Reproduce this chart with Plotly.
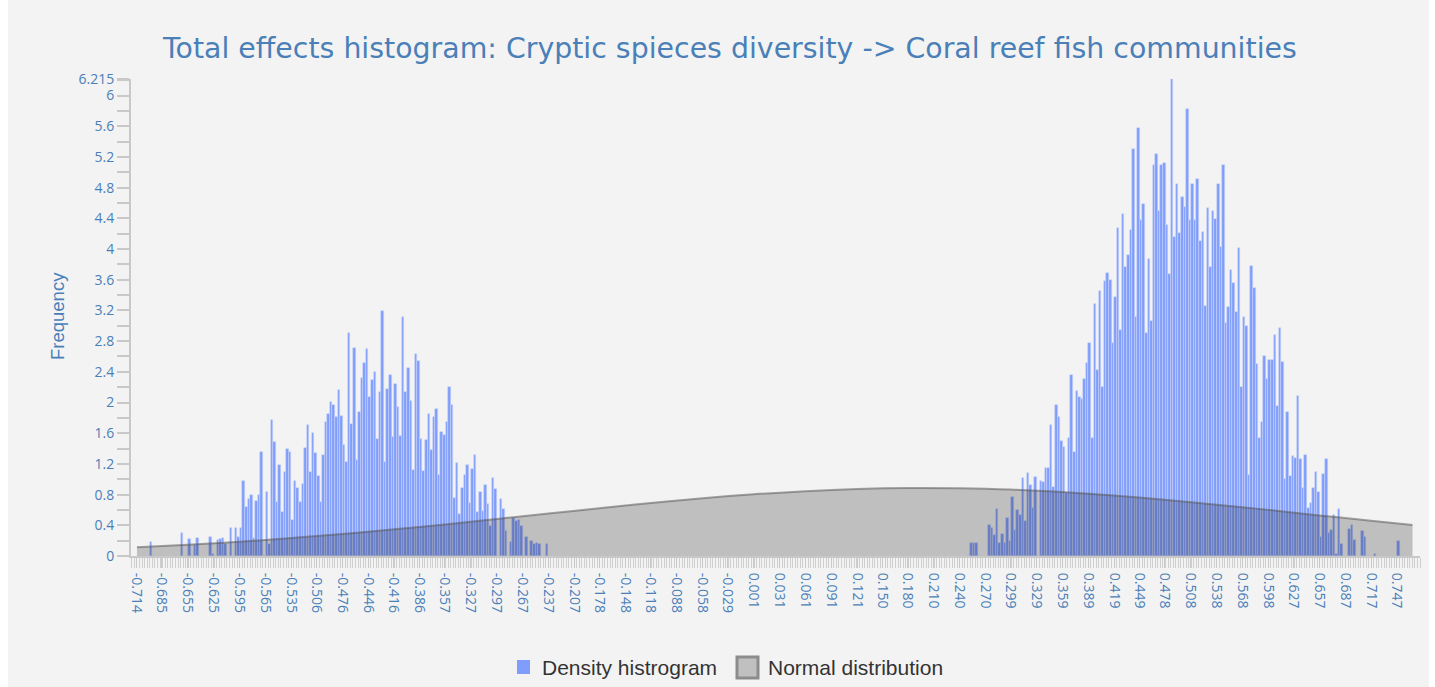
import plotly.graph_objects as go

# Histogram binning: 500 equal bins starting at the sample minimum
X_START = -0.7140
BIN_WIDTH = 0.0029816

# Density of each bin, left mode (first bin index LEFT_FIRST_BIN)
LEFT_FIRST_BIN = 5
LEFT_DENSITY = [
    0.18, 0, 0, 0, 0, 0, 0, 0, 0, 0, 0, 0, 0.30, 0, 0, 0.22, 0, 0.14, 0.24, 0,
    0, 0, 0, 0.25, 0.02, 0, 0.21, 0.22, 0.24, 0.16, 0, 0.37, 0, 0.36, 0.25, 0.36,
    0.98, 0.64, 0.74, 0.80, 0.23, 0.72, 0.79, 1.35, 0, 0.84, 0.16, 1.77, 1.48, 0.71,
    1.19, 0.57, 1.09, 1.40, 1.36, 0.47, 0.98, 0.89, 0.70, 0.94, 1.41, 1.71, 1.09, 1.60,
    1.34, 1.04, 0.70, 1.32, 1.75, 1.85, 2.01, 1.97, 1.81, 2.16, 1.83, 1.45, 1.23, 2.90,
    1.72, 2.71, 1.25, 1.87, 2.32, 2.51, 2.70, 2.07, 2.29, 2.40, 1.52, 2.14, 3.19, 1.23,
    2.17, 2.36, 1.55, 2.24, 1.94, 1.57, 3.12, 2.14, 2.45, 2.02, 1.12, 2.63, 2.54, 1.52,
    1.11, 1.51, 1.85, 1.38, 1.81, 1.92, 1.06, 1.62, 1.58, 1.74, 2.20, 1.97, 0.75, 1.21,
    0.55, 0.88, 1.05, 1.19, 0.69, 1.13, 1.31, 0.57, 0.84, 0.59, 0.93, 0.68, 0.39, 1.02,
    0.87, 0, 0.74, 0.61, 0.32, 0, 0.18, 0.50, 0.46, 0.47, 0.39, 0, 0.25, 0, 0.20,
    0.15, 0.17, 0.16, 0, 0, 0.15,
]

# Density of each bin, right mode (first bin index RIGHT_FIRST_BIN)
RIGHT_FIRST_BIN = 324
RIGHT_DENSITY = [
    0.165, 0.165, 0.17, 0, 0, 0, 0, 0.40, 0.37, 0.27, 0.61, 0.17, 0.29, 0.165, 0.49, 0.20,
    0.77, 0.34, 0.60, 0.53, 1.01, 0.45, 1.08, 0.92, 0.62, 1.03, 0, 0.98, 0.96, 1.15,
    1.15, 1.71, 0.90, 1.97, 1.81, 1.50, 1.42, 0.82, 1.54, 2.36, 1.35, 2.15, 2.07, 2.05,
    2.30, 2.51, 2.77, 1.54, 3.28, 2.42, 3.45, 2.20, 3.58, 3.69, 3.59, 2.78, 3.37, 4.27,
    2.94, 4.45, 3.76, 3.92, 4.25, 5.30, 3.12, 5.58, 4.38, 4.58, 2.91, 3.87, 3.06, 5.09,
    5.24, 4.49, 5.10, 5.12, 4.31, 3.68, 6.215, 4.16, 4.85, 4.21, 4.68, 4.55, 5.83, 4.38,
    4.85, 4.38, 4.91, 4.10, 4.22, 3.26, 4.53, 3.76, 4.49, 4.39, 4.85, 4.03, 5.09, 3.04,
    3.24, 3.72, 3.56, 3.18, 4.01, 2.20, 3.12, 3.00, 1.05, 3.78, 3.49, 2.50, 1.54, 1.74,
    2.61, 2.31, 2.55, 2.56, 2.88, 1.95, 2.97, 2.53, 1.00, 1.88, 1.04, 1.30, 1.28, 2.08,
    1.26, 0.89, 1.32, 0.62, 0.69, 0.88, 1.10, 0.84, 0.25, 1.07, 1.26, 0.30, 0.34, 0.54,
    0.03, 0.61, 0.16, 0, 0, 0.35, 0.41, 0.21, 0, 0, 0.32, 0.25, 0, 0, 0,
    0.02, 0, 0, 0, 0, 0, 0, 0, 0, 0.19,
]

# Fitted normal density, sampled along the x axis
NORMAL_X = [-0.714, -0.655, -0.595, -0.535, -0.476, -0.416, -0.357, -0.297, -0.237,
            -0.178, -0.118, -0.058, 0.001, 0.061, 0.121, 0.180, 0.240, 0.299, 0.359,
            0.419, 0.478, 0.538, 0.598, 0.657, 0.717, 0.765]
NORMAL_Y = [0.113, 0.146, 0.186, 0.234, 0.287, 0.347, 0.412, 0.482, 0.553,
            0.623, 0.691, 0.753, 0.804, 0.845, 0.873, 0.886, 0.883, 0.866, 0.833,
            0.788, 0.733, 0.669, 0.601, 0.529, 0.459, 0.403]

# Axis tick labels
X_TICK_LABELS = ["-0.714", "-0.685", "-0.655", "-0.625", "-0.595", "-0.565", "-0.535",
                 "-0.506", "-0.476", "-0.446", "-0.416", "-0.386", "-0.357", "-0.327",
                 "-0.297", "-0.267", "-0.237", "-0.207", "-0.178", "-0.148", "-0.118",
                 "-0.088", "-0.058", "-0.029", "0.001", "0.031", "0.061", "0.091",
                 "0.121", "0.150", "0.180", "0.210", "0.240", "0.270", "0.299", "0.329",
                 "0.359", "0.389", "0.419", "0.449", "0.478", "0.508", "0.538", "0.568",
                 "0.598", "0.627", "0.657", "0.687", "0.717", "0.747"]
Y_TICK_LABELS = ["0", "0.4", "0.8", "1.2", "1.6", "2", "2.4", "2.8", "3.2", "3.6", "4",
                 "4.4", "4.8", "5.2", "5.6", "6", "6.215"]

TITLE = "Total effects histogram: Cryptic spieces diversity -> Coral reef fish communities"
SERIES_NAMES = ["Density histrogram", "Normal distribution"]

BLUE = "#4a7fb8"
BG = "#f3f3f3"
BAR_COLOR = "rgb(128,157,251)"
NORMAL_FILL = "#c0c0c0"
NORMAL_EDGE = "#8c8c8c"

# plot area in pixels (for placing decorations outside the axes)
W, H = 1435, 687
PLOT_L, PLOT_R, PLOT_T, PLOT_B = 131, 1420, 79, 556
PW, PH = PLOT_R - PLOT_L, PLOT_B - PLOT_T


def px(x):
    return (x - PLOT_L) / PW


def py(y):
    return (PLOT_B - y) / PH


def bins(first, values):
    xs, ys = [], []
    for i, v in enumerate(values):
        if v > 0:
            xs.append(X_START + BIN_WIDTH * (first + i + 0.5))
            ys.append(v)
    return xs, ys


lx, ly = bins(LEFT_FIRST_BIN, LEFT_DENSITY)
rx, ry = bins(RIGHT_FIRST_BIN, RIGHT_DENSITY)

fig = go.Figure()

fig.add_trace(go.Bar(
    x=lx + rx, y=ly + ry, width=BIN_WIDTH,
    name=SERIES_NAMES[0],
    marker=dict(color=BAR_COLOR, line=dict(color="rgba(205,214,250,0.9)", width=0.6)),
))

fig.add_trace(go.Scatter(
    x=NORMAL_X, y=NORMAL_Y, mode="lines", name=SERIES_NAMES[1],
    line=dict(shape="spline", color="rgba(90,90,90,0.55)", width=2),
    fill="tozeroy", fillcolor="rgba(0,0,0,0.21)", hoverinfo="skip",
))

y_vals = [float(t) for t in Y_TICK_LABELS]
x_vals = [float(t) for t in X_TICK_LABELS]

fig.update_layout(
    width=W, height=H,
    margin=dict(l=PLOT_L, r=W - PLOT_R, t=PLOT_T, b=H - PLOT_B),
    paper_bgcolor=BG, plot_bgcolor=BG,
    bargap=0,
    showlegend=False,
    font=dict(family="Open Sans", color=BLUE),
)

fig.update_xaxes(
    range=[-0.7209, 0.7737],
    tickmode="array", tickvals=x_vals, ticktext=X_TICK_LABELS,
    tickangle=90, tickfont=dict(family="Open Sans", size=14, color=BLUE),
    ticks="outside", ticklen=10, tickcolor="#c8c8c8", tickwidth=1,
    ticklabelstandoff=2,
    minor=dict(dtick=BIN_WIDTH, tick0=X_START, ticks="outside", ticklen=10,
               tickcolor="#cfcfcf", tickwidth=1, showgrid=False),
    showline=True, linecolor="#c8c8c8", linewidth=2,
    showgrid=False, zeroline=False,
)

fig.update_yaxes(
    range=[0, 6.215],
    tickmode="array", tickvals=y_vals, ticktext=Y_TICK_LABELS,
    tickfont=dict(family="Open Sans", size=14, color=BLUE),
    ticks="outside", ticklen=12, tickcolor="#c8c8c8", tickwidth=2,
    minor=dict(dtick=0.2, tick0=0, ticks="outside", ticklen=12, tickcolor="#c8c8c8",
               tickwidth=2, showgrid=False),
    showline=True, linecolor="#c8c8c8", linewidth=2,
    showgrid=False, zeroline=False,
)

# white page margin on both sides of the grey panel
for x0, x1 in ((0, 8), (W - 6, W)):
    fig.add_shape(type="rect", xref="paper", yref="paper",
                  x0=px(x0), x1=px(x1), y0=py(H), y1=py(0),
                  fillcolor="#ffffff", line=dict(width=0), layer="below")

# title and y-axis caption
fig.add_annotation(
    text=TITLE, xref="paper", yref="paper", x=px(729), y=py(48),
    xanchor="center", yanchor="middle", showarrow=False,
    font=dict(family="DejaVu Sans", size=28.4, color=BLUE),
)
fig.add_annotation(
    text="Frequency", textangle=-90, xref="paper", yref="paper",
    x=px(57), y=py(316), xanchor="center", yanchor="middle", showarrow=False,
    font=dict(family="Liberation Sans, Arial", size=18.5, color=BLUE),
)

# legend: swatches and labels under the axis
legend_font = dict(family="Liberation Sans, Arial", size=21, color="#333333")
fig.add_shape(type="rect", xref="paper", yref="paper",
              x0=px(517), x1=px(530), y0=py(674), y1=py(660),
              fillcolor=BAR_COLOR, line=dict(width=0))
fig.add_annotation(text=SERIES_NAMES[0], xref="paper", yref="paper",
                   x=px(540), y=py(667), xanchor="left", yanchor="middle",
                   showarrow=False, font=legend_font)
fig.add_shape(type="rect", xref="paper", yref="paper",
              x0=px(737), x1=px(758), y0=py(678), y1=py(657),
              fillcolor=NORMAL_FILL, line=dict(color=NORMAL_EDGE, width=3))
fig.add_annotation(text=SERIES_NAMES[1], xref="paper", yref="paper",
                   x=px(766), y=py(667), xanchor="left", yanchor="middle",
                   showarrow=False, font=legend_font)

fig.write_html("out.html")
